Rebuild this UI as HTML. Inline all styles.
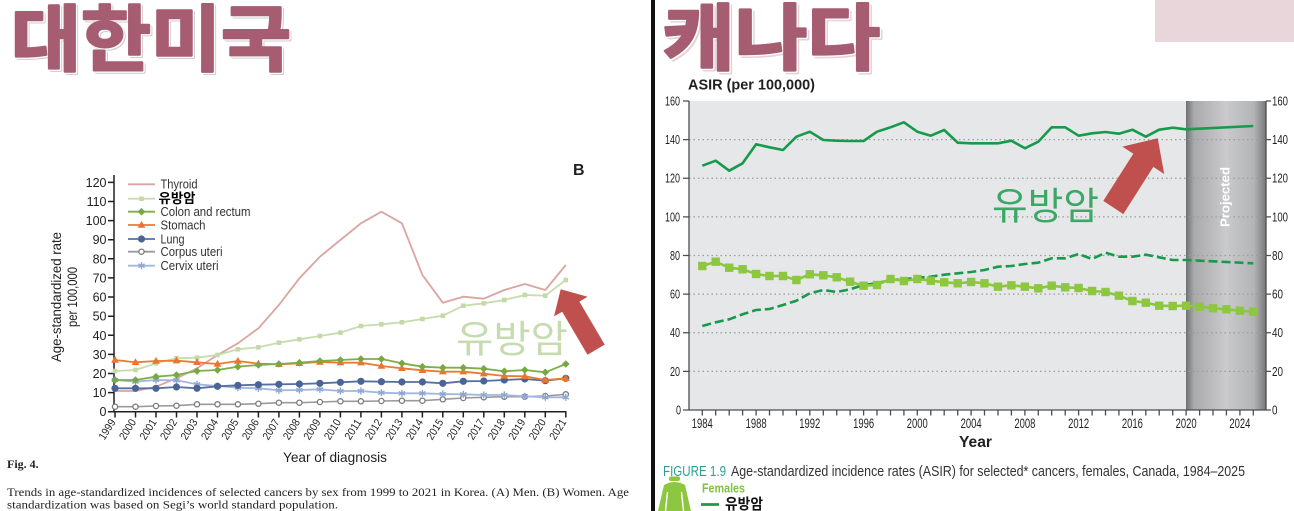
<!DOCTYPE html>
<html><head><meta charset="utf-8">
<style>
html,body{margin:0;padding:0;background:#fff;width:1294px;height:511px;overflow:hidden}
svg{display:block}
.s{font-family:"Liberation Sans",sans-serif}
.r{font-family:"Liberation Serif",serif}
.k{font-family:"Liberation Sans","Noto Sans CJK KR",sans-serif}
</style></head>
<body>
<svg width="1294" height="511" viewBox="0 0 1294 511" xmlns="http://www.w3.org/2000/svg">
<defs>
<marker id="mSq" markerWidth="10" markerHeight="10" refX="5" refY="5" markerUnits="userSpaceOnUse"><rect x="2.7" y="2.7" width="4.6" height="4.6" fill="#c3d9a6"/></marker>
<marker id="mDia" markerWidth="10" markerHeight="10" refX="5" refY="5" markerUnits="userSpaceOnUse"><path d="M5 1.2L8.8 5L5 8.8L1.2 5Z" fill="#76a844"/></marker>
<marker id="mTri" markerWidth="10" markerHeight="10" refX="5" refY="5.3" markerUnits="userSpaceOnUse"><path d="M5 1.2L8.9 8H1.1Z" fill="#ea7530"/></marker>
<marker id="mCirc" markerWidth="10" markerHeight="10" refX="5" refY="5" markerUnits="userSpaceOnUse"><circle cx="5" cy="5" r="3.6" fill="#4a6496"/></marker>
<marker id="mOc" markerWidth="10" markerHeight="10" refX="5" refY="5" markerUnits="userSpaceOnUse"><circle cx="5" cy="5" r="2.6" fill="#fff" stroke="#7b7b7b" stroke-width="1.3"/></marker>
<marker id="mAst" markerWidth="10" markerHeight="10" refX="5" refY="5" markerUnits="userSpaceOnUse"><path d="M5 1.4V8.6M1.9 3.2L8.1 6.8M1.9 6.8L8.1 3.2" stroke="#8da7d4" stroke-width="1.4"/></marker>
<marker id="mBig" markerWidth="12" markerHeight="12" refX="6" refY="6" markerUnits="userSpaceOnUse"><rect x="1.8" y="1.8" width="8.4" height="8.4" fill="#8dc63f"/></marker>
<linearGradient id="band" x1="0" x2="1" y1="0" y2="0">
<stop offset="0" stop-color="#6e6f71"/><stop offset="0.1" stop-color="#a9aaac"/><stop offset="0.5" stop-color="#c9cacc"/><stop offset="0.85" stop-color="#b3b4b6"/><stop offset="1" stop-color="#77787a"/>
</linearGradient>
</defs>

<!-- ===== LEFT PANEL ===== -->
<g style="font-family:'Noto Sans CJK KR','Liberation Sans',sans-serif" font-weight="700" font-size="72">
<text x="13" y="67" fill="#d2cbcd" stroke="#d2cbcd" stroke-width="3" stroke-linejoin="round" textLength="280" lengthAdjust="spacingAndGlyphs">대한미국</text>
<text x="12" y="66" fill="#fff" stroke="#fff" stroke-width="3" stroke-linejoin="round" textLength="280" lengthAdjust="spacingAndGlyphs">대한미국</text>
<text x="11" y="65" fill="#a65c71" stroke="#a65c71" stroke-width="2.5" stroke-linejoin="round" textLength="280" lengthAdjust="spacingAndGlyphs">대한미국</text>
</g>

<text x="573" y="175" class="s" font-weight="bold" font-size="16" fill="#231f20">B</text>

<!-- axes -->
<g stroke="#231f20" stroke-width="1.5" fill="none">
<path d="M114 175V412.4M113.3 411.7H566.5"/>
<path d="M108 182.4H114M108 201.5H114M108 220.6H114M108 239.7H114M108 258.8H114M108 277.9H114M108 297H114M108 316.2H114M108 335.3H114M108 354.4H114M108 373.5H114M108 392.6H114M108 411.7H114"/>
<path d="M115 411.7V417.5M135.5 411.7V417.5M156 411.7V417.5M176.5 411.7V417.5M197 411.7V417.5M217.5 411.7V417.5M237.9 411.7V417.5M258.4 411.7V417.5M278.9 411.7V417.5M299.4 411.7V417.5M319.9 411.7V417.5M340.4 411.7V417.5M360.9 411.7V417.5M381.4 411.7V417.5M401.9 411.7V417.5M422.4 411.7V417.5M442.8 411.7V417.5M463.3 411.7V417.5M483.8 411.7V417.5M504.3 411.7V417.5M524.8 411.7V417.5M545.3 411.7V417.5M565.8 411.7V417.5"/>
</g>
<g class="s" font-size="12.5" fill="#231f20" text-anchor="end">
<text x="106.5" y="186.9">120</text><text x="106.5" y="206">110</text><text x="106.5" y="225.1">100</text>
<text x="106.5" y="244.2">90</text><text x="106.5" y="263.3">80</text><text x="106.5" y="282.4">70</text>
<text x="106.5" y="301.5">60</text><text x="106.5" y="320.7">50</text><text x="106.5" y="339.8">40</text>
<text x="106.5" y="358.9">30</text><text x="106.5" y="378">20</text><text x="106.5" y="397.1">10</text>
<text x="106.5" y="416.2">0</text>
</g>
<g class="s" font-size="11" fill="#231f20" text-anchor="end">
<text transform="translate(116,422) rotate(-58)" textLength="22" lengthAdjust="spacingAndGlyphs">1999</text>
<text transform="translate(136.5,422) rotate(-58)" textLength="22" lengthAdjust="spacingAndGlyphs">2000</text>
<text transform="translate(157,422) rotate(-58)" textLength="22" lengthAdjust="spacingAndGlyphs">2001</text>
<text transform="translate(177.5,422) rotate(-58)" textLength="22" lengthAdjust="spacingAndGlyphs">2002</text>
<text transform="translate(198,422) rotate(-58)" textLength="22" lengthAdjust="spacingAndGlyphs">2003</text>
<text transform="translate(218.5,422) rotate(-58)" textLength="22" lengthAdjust="spacingAndGlyphs">2004</text>
<text transform="translate(238.9,422) rotate(-58)" textLength="22" lengthAdjust="spacingAndGlyphs">2005</text>
<text transform="translate(259.4,422) rotate(-58)" textLength="22" lengthAdjust="spacingAndGlyphs">2006</text>
<text transform="translate(279.9,422) rotate(-58)" textLength="22" lengthAdjust="spacingAndGlyphs">2007</text>
<text transform="translate(300.4,422) rotate(-58)" textLength="22" lengthAdjust="spacingAndGlyphs">2008</text>
<text transform="translate(320.9,422) rotate(-58)" textLength="22" lengthAdjust="spacingAndGlyphs">2009</text>
<text transform="translate(341.4,422) rotate(-58)" textLength="22" lengthAdjust="spacingAndGlyphs">2010</text>
<text transform="translate(361.9,422) rotate(-58)" textLength="22" lengthAdjust="spacingAndGlyphs">2011</text>
<text transform="translate(382.4,422) rotate(-58)" textLength="22" lengthAdjust="spacingAndGlyphs">2012</text>
<text transform="translate(402.9,422) rotate(-58)" textLength="22" lengthAdjust="spacingAndGlyphs">2013</text>
<text transform="translate(423.4,422) rotate(-58)" textLength="22" lengthAdjust="spacingAndGlyphs">2014</text>
<text transform="translate(443.8,422) rotate(-58)" textLength="22" lengthAdjust="spacingAndGlyphs">2015</text>
<text transform="translate(464.3,422) rotate(-58)" textLength="22" lengthAdjust="spacingAndGlyphs">2016</text>
<text transform="translate(484.8,422) rotate(-58)" textLength="22" lengthAdjust="spacingAndGlyphs">2017</text>
<text transform="translate(505.3,422) rotate(-58)" textLength="22" lengthAdjust="spacingAndGlyphs">2018</text>
<text transform="translate(525.8,422) rotate(-58)" textLength="22" lengthAdjust="spacingAndGlyphs">2019</text>
<text transform="translate(546.3,422) rotate(-58)" textLength="22" lengthAdjust="spacingAndGlyphs">2020</text>
<text transform="translate(566.8,422) rotate(-58)" textLength="22" lengthAdjust="spacingAndGlyphs">2021</text>
</g>
<text x="283" y="462" class="s" font-size="14" fill="#231f20" textLength="104" lengthAdjust="spacingAndGlyphs">Year of diagnosis</text>
<g class="s" font-size="13.5" fill="#231f20" text-anchor="middle">
<text transform="translate(61,297) rotate(-90)" textLength="130" lengthAdjust="spacingAndGlyphs">Age-standardized rate</text>
<text transform="translate(77,297) rotate(-90)" textLength="60" lengthAdjust="spacingAndGlyphs">per 100,000</text>
</g>

<!-- series -->
<g fill="none" stroke-linejoin="round">
<polyline stroke="#dba4a0" stroke-width="1.8" points="115,391 135.5,391 156,386.7 176.5,378.3 197,368.3 217.5,355 237.9,343.3 258.4,328.3 278.9,305 299.4,278.3 319.9,256.7 340.4,240 360.9,223.3 381.4,211.7 401.9,223.3 422.4,275 442.8,302.7 463.3,296.7 483.8,298.7 504.3,290 524.8,284 545.3,290 565.8,265"/>
<polyline stroke="#c8dcb0" stroke-width="1.8" marker-start="url(#mSq)" marker-mid="url(#mSq)" marker-end="url(#mSq)" points="115,371 135.5,370 156,363.3 176.5,358.3 197,357.7 217.5,355 237.9,349.3 258.4,347.3 278.9,342.7 299.4,339.3 319.9,336 340.4,332.7 360.9,326 381.4,324.3 401.9,322.3 422.4,319 442.8,315.7 463.3,305.7 483.8,303.3 504.3,300 524.8,295 545.3,295.7 565.8,280"/>
<polyline stroke="#9a9a9a" stroke-width="1.6" marker-start="url(#mOc)" marker-mid="url(#mOc)" marker-end="url(#mOc)" points="115,406.7 135.5,406.7 156,406 176.5,405.7 197,404.3 217.5,404.3 237.9,404.3 258.4,403.7 278.9,402.7 299.4,402.7 319.9,402 340.4,401.3 360.9,401.3 381.4,401 401.9,400.7 422.4,400.7 442.8,399.3 463.3,398 483.8,397.3 504.3,396.7 524.8,396.7 545.3,396 565.8,394.3"/>
<polyline stroke="#a3b7dc" stroke-width="1.8" marker-start="url(#mAst)" marker-mid="url(#mAst)" marker-end="url(#mAst)" points="115,380 135.5,381.7 156,380 176.5,380.3 197,384.3 217.5,386 237.9,387.7 258.4,388.3 278.9,390.3 299.4,390 319.9,389.3 340.4,391 360.9,391 381.4,392.7 401.9,393.3 422.4,393.3 442.8,394 463.3,394.3 483.8,395 504.3,395 524.8,396.3 545.3,397.3 565.8,397.3"/>
<polyline stroke="#56709f" stroke-width="1.8" marker-start="url(#mCirc)" marker-mid="url(#mCirc)" marker-end="url(#mCirc)" points="115,388.3 135.5,388.3 156,388.3 176.5,387 197,388.3 217.5,386.3 237.9,385.3 258.4,384.7 278.9,384.3 299.4,384 319.9,383.3 340.4,382.3 360.9,381.3 381.4,381.7 401.9,382 422.4,382 442.8,383.3 463.3,381.3 483.8,381 504.3,380 524.8,379 545.3,380.7 565.8,378.3"/>
<polyline stroke="#ec7a33" stroke-width="1.8" marker-start="url(#mTri)" marker-mid="url(#mTri)" marker-end="url(#mTri)" points="115,360 135.5,362.3 156,361 176.5,360.7 197,362.3 217.5,364 237.9,361 258.4,363.7 278.9,364.3 299.4,363.3 319.9,362 340.4,362.7 360.9,362.7 381.4,366 401.9,368.3 422.4,370.3 442.8,371.7 463.3,371.7 483.8,373.7 504.3,376 524.8,376.3 545.3,380 565.8,378.3"/>
<polyline stroke="#7fae4c" stroke-width="1.8" marker-start="url(#mDia)" marker-mid="url(#mDia)" marker-end="url(#mDia)" points="115,380 135.5,380 156,376.7 176.5,375 197,371 217.5,370 237.9,366.7 258.4,365 278.9,364 299.4,362.7 319.9,361 340.4,360 360.9,359 381.4,359 401.9,363.3 422.4,366.7 442.8,367.7 463.3,367.7 483.8,368.7 504.3,371.3 524.8,370 545.3,372.3 565.8,364"/>
</g>

<!-- legend -->
<g fill="none" stroke-width="1.8">
<polyline stroke="#dba4a0" points="128,184.3 155,184.3"/>
<polyline stroke="#c8dcb0" marker-mid="url(#mSq)" points="128,198.7 141.5,198.7 155,198.7"/>
<polyline stroke="#7fae4c" marker-mid="url(#mDia)" points="128,211.7 141.5,211.7 155,211.7"/>
<polyline stroke="#ec7a33" marker-mid="url(#mTri)" points="128,225 141.5,225 155,225"/>
<polyline stroke="#56709f" marker-mid="url(#mCirc)" points="128,239 141.5,239 155,239"/>
<polyline stroke="#9a9a9a" marker-mid="url(#mOc)" points="128,251.7 141.5,251.7 155,251.7"/>
<polyline stroke="#a3b7dc" marker-mid="url(#mAst)" points="128,265.7 141.5,265.7 155,265.7"/>
</g>
<g class="s" font-size="12.5" fill="#333">
<text x="160.5" y="188.6" textLength="37" lengthAdjust="spacingAndGlyphs">Thyroid</text>
<text x="160.5" y="216" textLength="90" lengthAdjust="spacingAndGlyphs">Colon and rectum</text>
<text x="160.5" y="229.3" textLength="45" lengthAdjust="spacingAndGlyphs">Stomach</text>
<text x="160.5" y="243.3" textLength="24" lengthAdjust="spacingAndGlyphs">Lung</text>
<text x="160.5" y="256" textLength="62" lengthAdjust="spacingAndGlyphs">Corpus uteri</text>
<text x="160.5" y="270" textLength="58" lengthAdjust="spacingAndGlyphs">Cervix uteri</text>
</g>
<text x="158.5" y="202.8" class="k" font-weight="bold" font-size="13.5" fill="#000" textLength="37" lengthAdjust="spacingAndGlyphs">유방암</text>

<text x="456" y="352.5" class="k" font-size="38" fill="#c6dcb0" textLength="112" lengthAdjust="spacingAndGlyphs">유방암</text>
<polygon fill="#c0504d" points="560.7,289.3 587.6,296.8 579.4,301.6 604.7,344.6 587.5,354.8 562.2,311.7 554,316.4"/>

<text x="7" y="468" class="r" font-weight="bold" font-size="12" fill="#231f20">Fig. 4.</text>
<text x="7" y="496" class="r" font-size="11.5" fill="#231f20" textLength="622" lengthAdjust="spacingAndGlyphs">Trends in age-standardized incidences of selected cancers by sex from 1999 to 2021 in Korea. (A) Men. (B) Women. Age</text>
<text x="7" y="508.5" class="r" font-size="11.5" fill="#231f20" textLength="331" lengthAdjust="spacingAndGlyphs">standardization was based on Segi’s world standard population.</text>

<!-- ===== RIGHT PANEL ===== -->
<rect x="651" y="0" width="4" height="511" fill="#111"/>
<rect x="1155" y="0" width="139" height="42" fill="#e8d6db"/>

<g style="font-family:'Noto Sans CJK KR','Liberation Sans',sans-serif" font-weight="700" font-size="72">
<text x="664.5" y="66.5" fill="#e6d2d8" stroke="#e6d2d8" stroke-width="3" stroke-linejoin="round" textLength="218" lengthAdjust="spacingAndGlyphs">캐나다</text>
<text x="663" y="65" fill="#fff" stroke="#fff" stroke-width="3" stroke-linejoin="round" textLength="218" lengthAdjust="spacingAndGlyphs">캐나다</text>
<text x="662" y="64" fill="#a65c71" stroke="#a65c71" stroke-width="2.5" stroke-linejoin="round" textLength="218" lengthAdjust="spacingAndGlyphs">캐나다</text>
</g>

<text x="688" y="89.5" class="s" font-weight="bold" font-size="15" fill="#231f20" textLength="127" lengthAdjust="spacingAndGlyphs">ASIR (per 100,000)</text>

<rect x="689" y="101" width="577" height="309" fill="#e6e7e8"/>
<rect x="1186" y="101" width="80" height="309" fill="url(#band)"/>
<g stroke="#9b9c9e" stroke-width="1.2" stroke-dasharray="1.5 3" fill="none">
<path d="M689 371.4H1266M689 332.75H1266M689 294.1H1266M689 255.5H1266M689 216.9H1266M689 178.25H1266M689 139.6H1266"/>
</g>
<text transform="translate(1229.5,197) rotate(-90)" text-anchor="middle" class="s" font-weight="bold" font-size="13" fill="#fff" textLength="60" lengthAdjust="spacingAndGlyphs">Projected</text>

<g stroke="#4d4d4f" stroke-width="1.3" fill="none">
<path d="M689 101V410.6M1266 101V410.6M688.4 410H1266.6"/>
<path d="M683 101H689M683 139.6H689M683 178.25H689M683 216.9H689M683 255.5H689M683 294.1H689M683 332.75H689M683 371.4H689M683 410H689"/>
<path d="M1266 101H1271M1266 139.6H1271M1266 178.25H1271M1266 216.9H1271M1266 255.5H1271M1266 294.1H1271M1266 332.75H1271M1266 371.4H1271M1266 410H1271"/>
<path d="M702.3 410V415.5M715.7 410V415.5M729.2 410V415.5M742.6 410V415.5M756.1 410V415.5M769.5 410V415.5M783 410V415.5M796.4 410V415.5M809.8 410V415.5M823.3 410V415.5M836.7 410V415.5M850.1 410V415.5M863.6 410V415.5M877 410V415.5M890.5 410V415.5M903.9 410V415.5M917.3 410V415.5M930.8 410V415.5M944.2 410V415.5M957.7 410V415.5M971.1 410V415.5M984.5 410V415.5M998 410V415.5M1011.4 410V415.5M1024.9 410V415.5M1038.3 410V415.5M1051.7 410V415.5M1065.2 410V415.5M1078.6 410V415.5M1092.1 410V415.5M1105.5 410V415.5M1118.9 410V415.5M1132.4 410V415.5M1145.8 410V415.5M1159.2 410V415.5M1172.7 410V415.5M1186.1 410V415.5M1199.6 410V415.5M1213 410V415.5M1226.4 410V415.5M1239.9 410V415.5M1253.3 410V415.5"/>
</g>
<g class="s" font-size="12.5" fill="#231f20">
<g text-anchor="end">
<text x="680" y="105.5" textLength="15" lengthAdjust="spacingAndGlyphs">160</text>
<text x="680" y="144.1" textLength="15" lengthAdjust="spacingAndGlyphs">140</text>
<text x="680" y="182.7" textLength="15" lengthAdjust="spacingAndGlyphs">120</text>
<text x="680" y="221.4" textLength="15" lengthAdjust="spacingAndGlyphs">100</text>
<text x="680" y="260" textLength="10" lengthAdjust="spacingAndGlyphs">80</text>
<text x="680" y="298.6" textLength="10" lengthAdjust="spacingAndGlyphs">60</text>
<text x="680" y="337.2" textLength="10" lengthAdjust="spacingAndGlyphs">40</text>
<text x="680" y="375.9" textLength="10" lengthAdjust="spacingAndGlyphs">20</text>
<text x="681" y="414.5" textLength="5" lengthAdjust="spacingAndGlyphs">0</text>
</g>
<text x="1272" y="105.5" textLength="16" lengthAdjust="spacingAndGlyphs">160</text>
<text x="1272" y="144.1" textLength="16" lengthAdjust="spacingAndGlyphs">140</text>
<text x="1272" y="182.7" textLength="16" lengthAdjust="spacingAndGlyphs">120</text>
<text x="1272" y="221.4" textLength="16" lengthAdjust="spacingAndGlyphs">100</text>
<text x="1272" y="260" textLength="11" lengthAdjust="spacingAndGlyphs">80</text>
<text x="1272" y="298.6" textLength="11" lengthAdjust="spacingAndGlyphs">60</text>
<text x="1272" y="337.2" textLength="11" lengthAdjust="spacingAndGlyphs">40</text>
<text x="1272" y="375.9" textLength="11" lengthAdjust="spacingAndGlyphs">20</text>
<text x="1272" y="414.5" textLength="5.5" lengthAdjust="spacingAndGlyphs">0</text>
</g>
<g class="s" font-size="14" fill="#231f20" text-anchor="middle">
<text x="702.3" y="428" textLength="21" lengthAdjust="spacingAndGlyphs">1984</text>
<text x="756.1" y="428" textLength="21" lengthAdjust="spacingAndGlyphs">1988</text>
<text x="809.8" y="428" textLength="21" lengthAdjust="spacingAndGlyphs">1992</text>
<text x="863.6" y="428" textLength="21" lengthAdjust="spacingAndGlyphs">1996</text>
<text x="917.3" y="428" textLength="21" lengthAdjust="spacingAndGlyphs">2000</text>
<text x="971.1" y="428" textLength="21" lengthAdjust="spacingAndGlyphs">2004</text>
<text x="1024.9" y="428" textLength="21" lengthAdjust="spacingAndGlyphs">2008</text>
<text x="1078.6" y="428" textLength="21" lengthAdjust="spacingAndGlyphs">2012</text>
<text x="1132.4" y="428" textLength="21" lengthAdjust="spacingAndGlyphs">2016</text>
<text x="1186.1" y="428" textLength="21" lengthAdjust="spacingAndGlyphs">2020</text>
<text x="1239.9" y="428" textLength="21" lengthAdjust="spacingAndGlyphs">2024</text>
</g>
<text x="959" y="447" class="s" font-weight="bold" font-size="16" fill="#231f20" textLength="33" lengthAdjust="spacingAndGlyphs">Year</text>

<!-- right series -->
<g fill="none" stroke-linejoin="round">
<polyline stroke="#179a4b" stroke-width="2.6" stroke-dasharray="9 4" points="702.3,326 715.7,322.3 729.2,319.3 742.6,314.3 756.1,310 769.5,309 783,305 796.4,300.7 809.8,293.3 823.3,290 836.7,292 850.1,289.3 863.6,285 877,283.3 890.5,280 903.9,279.3 917.3,277.7 930.8,276.7 944.2,274.7 957.7,273.3 971.1,272 984.5,270 998,266.7 1011.4,266 1024.9,264 1038.3,262.7 1051.7,258.3 1065.2,258.3 1078.6,254 1092.1,259 1105.5,252.7 1118.9,256.7 1132.4,256.7 1145.8,254.7 1159.2,257.3 1172.7,260 1186.1,260 1253.3,263.3"/>
<polyline stroke="#8dc63f" stroke-width="2.6" marker-start="url(#mBig)" marker-mid="url(#mBig)" marker-end="url(#mBig)" points="702.3,266 715.7,261.7 729.2,267.7 742.6,269.3 756.1,274 769.5,276 783,276 796.4,280 809.8,274.3 823.3,275.3 836.7,277.3 850.1,281.7 863.6,285.7 877,285 890.5,279 903.9,281 917.3,279 930.8,280.7 944.2,282.3 957.7,283.3 971.1,282 984.5,283.3 998,286.7 1011.4,285.3 1024.9,286.7 1038.3,288.3 1051.7,285.7 1065.2,287.3 1078.6,288 1092.1,291 1105.5,292 1118.9,295.7 1132.4,301 1145.8,302.7 1159.2,305.7 1172.7,306 1186.1,305.7 1199.6,306.7 1213,308.3 1226.4,309.3 1239.9,310.7 1253.3,311.7"/>
<polyline stroke="#179a4b" stroke-width="2.6" points="702.3,165.7 715.7,160.7 729.2,170.7 742.6,163.3 756.1,144.3 769.5,147.3 783,150 796.4,136.7 809.8,131.7 823.3,140 836.7,140.7 850.1,141 863.6,141 877,131.7 890.5,127.3 903.9,122.3 917.3,131.7 930.8,135.7 944.2,130 957.7,142.7 971.1,143.3 984.5,143.3 998,143.3 1011.4,140.7 1024.9,148.3 1038.3,141.7 1051.7,127.3 1065.2,127.3 1078.6,135.7 1092.1,133.3 1105.5,132 1118.9,133.7 1132.4,129.7 1145.8,136.7 1159.2,129.7 1172.7,127.7 1186.1,129.3 1253.3,126"/>
</g>

<text x="992" y="219.5" class="k" font-size="38" fill="#3ca766" textLength="107" lengthAdjust="spacingAndGlyphs">유방암</text>
<polygon fill="#c0504d" points="1157.7,138.3 1164.2,174 1153.3,166.9 1123.3,214.1 1103.3,200.9 1133.3,153.7 1122.4,146.6"/>

<text x="663" y="476" class="s" font-size="15" fill="#2a9f98" textLength="63" lengthAdjust="spacingAndGlyphs">FIGURE 1.9</text>
<text x="731" y="476" class="s" font-size="15" fill="#333" textLength="514" lengthAdjust="spacingAndGlyphs">Age-standardized incidence rates (ASIR) for selected* cancers, females, Canada, 1984–2025</text>

<!-- female icon -->
<rect x="669" y="476.5" width="11" height="4.5" rx="2" fill="#8dc63f"/>
<path d="M664 485Q669 482 674.5 482Q680 482 685 485L691 511H658Z" fill="#8dc63f"/>
<path d="M667.5 492L665.5 511M681.5 492L683.5 511" stroke="#fff" stroke-width="1.4"/>

<text x="702" y="492.5" class="s" font-weight="bold" font-size="12.5" fill="#7dc242" textLength="43" lengthAdjust="spacingAndGlyphs">Females</text>
<line x1="701" y1="504.5" x2="719" y2="504.5" stroke="#179a4b" stroke-width="2.8"/>
<text x="725" y="509" class="k" font-weight="bold" font-size="15" fill="#111" textLength="38" lengthAdjust="spacingAndGlyphs">유방암</text>
</svg>
</body></html>
